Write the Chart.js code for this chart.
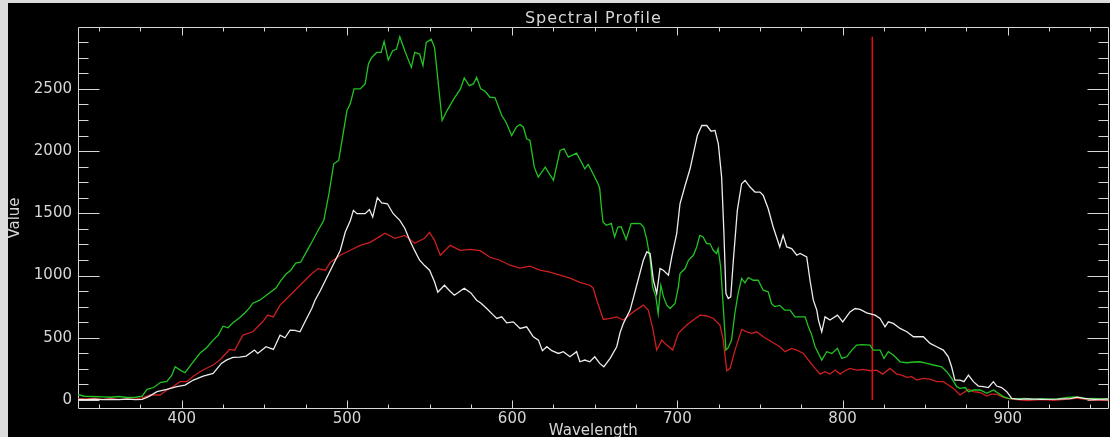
<!DOCTYPE html>
<html>
<head>
<meta charset="utf-8">
<script src="https://cdn.jsdelivr.net/npm/chart.js@4.4.1/dist/chart.umd.min.js"></script>
<style>
  html, body { margin: 0; padding: 0; background: #dcdcdc; width: 1110px; height: 437px; overflow: hidden; }
  #wrap { position: absolute; left: 8px; top: 3px; width: 1102px; height: 434px; background: #000; }
  canvas { display: block; }
</style>
</head>
<body>
<div id="wrap"><canvas id="c" width="1102" height="434"></canvas></div>
<script>
// Spectral profile: three pixel spectra (white, green, red) against wavelength (nm)
const whiteWl = [337,342,347,352,357,362,367,372,376,380,385,391,397,402,407,413,419,424,427,431,435,439,444,446,451,455.5,459.5,462.5,465.6,468.5,471.6,474.6,478.7,480.7,484,490,496,499,502,503.9,506,511,513.6,515.6,518.4,521,524.5,528,532,535,538,541,544,547,550,553,555,559,562,565,568,571,575,578.5,581,584.6,588.6,590.7,593.7,596.7,600.7,604.8,608.8,612.8,615.9,618.3,621,624,628,631,635,639,641,644,647,650,653,655.5,659.3,663.3,665.3,667.3,668.3,671.4,675.4,679.4,681.5,683.5,685.5,687.5,689.5,691.5,694.6,696.6,699.6,701.6,704.7,707.7,709.7,712.1,714.8,717.8,720.4,722.8,724.8,726.8,728.2,729.4,730.8,732.3,733.9,736.3,738.9,741,744,747,750,752,755,758,760,762,764,766.2,769.2,772.3,774.3,778.3,780.3,782.3,784.4,785.4,787.4,789.4,792.4,796.9,800.1,804.5,807.6,810.6,814.6,819.7,822.7,825.7,827.7,830.7,834.8,838.9,842.9,848.9,853,857,861,864,866,868,871.1,873.5,876.2,879.2,882.2,885.2,888.3,891.3,893.3,896.3,899.4,902.4,907,912,920,930,938,942,946,952,961];
const whiteVal = [5,3,6,2,4,3,6,3,5,27,67,86,107,120,160,192,214,294,320,342,345,353,401,374,428,406,521,500,561,560,548,628,735,802,882,1043,1203,1350,1440,1524,1497,1497,1530,1470,1626,1583,1577,1497,1444,1380,1283,1200,1123,1080,1043,950,866,922,880,842,870,898,860,802,780,735,682,655,668,620,628,575,588,508,481,396,428,396,374,388,347,388,307,321,307,347,294,267,334,428,540,615,642,722,922,1123,1190,1177,962,856,1056,1043,1003,1150,1337,1577,1724,1858,1979,2125,2206,2206,2160,2166,2059,1791,1337,856,816,829,1123,1524,1738,1765,1711,1671,1671,1644,1537,1390,1310,1230,1323,1230,1217,1163,1177,1150,962,802,722,642,548,668,642,682,628,708,735,728,700,682,655,588,628,615,575,548,508,508,455,428,401,347,267,160,160,147,200,147,112,107,100,147,112,100,67,13,5,8,4,6,10,22,12,5,6];

const greenWl = [337,341,346,352,357,362,367,372,376,379,383,387,391,394,396,399,402,406,411,415,419,422,425,428,431,435,438,441,443,447,450,453,457,460,463,466,469,472,475,478,482,486,489,492,495,497,500,502,504.3,508,511,513,515,518,520.7,522.5,525,527.7,530,532,535,539,541,544,546,548,551,553,554.5,557.6,560.6,564.7,568.7,571,574,576.5,578.5,581,583.6,586.6,589.6,593.7,596.3,599.7,602.7,604.8,606.8,608.8,610.8,613.4,615.8,620,625,629,631.4,634,639,644,646,649,652,653,654,655,657,660,662,664,666,669,672,674.5,677.6,679.6,681.6,683.6,685,687,688.4,690,691.6,693.6,695.6,698.6,700.6,701.6,704.7,706.7,709.7,711.7,713.6,715.6,717.7,719.7,721.7,723.7,724.7,726.2,727.8,729.4,730.8,732.8,734.8,736.8,738.9,740.9,742.9,745.9,748.9,752,755,757,759,762,765,768.2,771.2,774,777.3,779.3,781,783.4,787.4,790.4,793.5,796.9,799.5,802.5,805.6,808.6,812,816.6,818.6,822.7,825.1,827.7,830.7,834.8,838.9,843,846.9,851,855,860,863.1,866.1,869.1,871.1,874.2,876.2,879.2,883.3,887.3,891.3,894.3,897.3,900.4,905,910,915,920,925,930,935,940,944,948,952,956,961];
const greenVal = [45,30,28,25,22,28,20,22,30,86,100,140,150,200,267,240,219,290,375,420,481,520,593,580,620,660,697,740,778,800,830,860,900,960,1010,1043,1100,1107,1180,1250,1350,1444,1650,1898,1925,2085,2326,2380,2500,2500,2540,2700,2753,2793,2793,2882,2733,2807,2820,2919,2807,2673,2793,2780,2687,2874,2900,2834,2647,2246,2326,2420,2500,2588,2526,2540,2593,2500,2481,2433,2430,2286,2232,2125,2197,2214,2192,2099,2085,1871,1791,1871,1765,2005,2019,1952,1984,1858,1893,1818,1738,1700,1550,1430,1404,1420,1310,1390,1393,1289,1417,1420,1417,1390,1283,1123,909,829,695,922,829,762,735,775,909,1016,1056,1123,1163,1230,1323,1310,1257,1257,1203,1177,1217,1069,748,401,420,481,695,856,976,941,984,962,962,882,869,775,750,760,722,722,668,668,668,588,535,428,321,388,374,415,334,347,401,441,445,441,401,401,334,388,361,307,299,305,307,294,281,267,227,174,107,94,100,67,80,80,54,80,54,27,13,8,12,5,10,6,8,18,25,20,10,12,8,10];

const redWl = [337,342,347,352,357,362,367,372,376,380.8,386.9,391,395,399,403,407,411,415,419,423,429,432,437,443,449,452,455.5,459.5,462.5,465.6,471.6,477.7,482.5,487,490,496,502,508,514,520,523,529,535,541,547,550,553,556.5,562.5,568.5,574.6,580.6,586.6,592.6,598.7,604.7,610.8,616.8,622.9,629,635,641,647,649,651.2,655.2,659.3,663.3,667.3,673.4,679.4,682.4,685.1,687.5,690.6,693.6,697.2,700.6,705.7,709.7,713.7,717.8,721.8,725.8,727.8,729.9,731.9,734.9,739,742,745,748,752,757,762,765.2,769.2,772.3,776.3,779.3,783.4,786.4,789.4,792.4,795.5,798.5,801.5,804.5,808.6,812.6,816.6,820.7,824.3,828.7,832.8,835.8,838.9,841.9,844.9,848.9,853,857,861,864,867,871.1,874.2,876.2,879.2,883.3,887.3,890.3,893.3,896.3,899.4,905,912,920,928,935,942,948,955,961];
const redVal = [10,8,12,5,10,4,8,6,16,40,40,80,110,147,147,190,227,255,281,321,406,400,521,548,628,682,668,762,802,842,922,1003,1056,1043,1107,1163,1203,1243,1267,1315,1340,1299,1323,1259,1300,1347,1283,1163,1243,1203,1210,1200,1147,1123,1083,1059,1075,1043,1027,1003,979,946,922,900,802,647,655,668,642,708,762,722,575,401,481,441,401,535,602,642,682,675,655,602,481,235,254,401,567,548,535,548,508,468,428,388,414,401,374,321,254,208,227,208,240,208,235,254,240,245,235,240,208,254,208,200,182,187,160,174,168,147,147,120,94,40,67,86,67,60,32,47,47,27,13,2,-5,3,-3,5,15,2,-2,0];

// Cursor line at the selected band
const markerWl = 818;
const markerSpan = [0, 2920];

// Axis labels and ticks
const titleText = 'Spectral Profile';
const xTitle = 'Wavelength';
const yTitle = 'Value';
const xTicks = [400, 500, 600, 700, 800, 900];
const yTicks = [0, 500, 1000, 1500, 2000, 2500];
const xRange = [337.2, 961.1];
const yRange = [-75, 3000];

const axisColor = '#d6d6d6';
const textFont = '"DejaVu Sans", "Liberation Sans", sans-serif';

const toPoints = (wl, val) => wl.map((w, i) => ({ x: w, y: val[i] }));

// Box frame with inward ticks on all four sides, plus the title and axis names
const framePlugin = {
  id: 'frame',
  beforeDatasetsDraw(chart) {
    const { ctx, chartArea: a, scales: { x, y } } = chart;
    const L = Math.round(a.left) + 0.5, R = Math.round(a.right) - 0.5;
    const T = Math.round(a.top) + 0.5, B = Math.round(a.bottom) - 0.5;
    ctx.save();
    ctx.strokeStyle = axisColor;
    ctx.lineWidth = 1;
    ctx.beginPath();
    ctx.rect(L, T, R - L, B - T);
    // x ticks: major every 100, minor every 25
    for (let w = 350; w <= 950; w += 25) {
      const px = Math.round(x.getPixelForValue(w)) + 0.5;
      const len = xTicks.includes(w) ? 8 : 4;
      ctx.moveTo(px, B); ctx.lineTo(px, B - len);
      ctx.moveTo(px, T); ctx.lineTo(px, T + len);
    }
    // y ticks: major every 500, minor every 125
    for (let v = 125; v < 3000; v += 125) {
      const py = Math.round(y.getPixelForValue(v)) + 0.5;
      const len = yTicks.includes(v) ? 21 : 10;
      ctx.moveTo(L, py); ctx.lineTo(L + len, py);
      ctx.moveTo(R, py); ctx.lineTo(R - len, py);
    }
    const p0 = Math.round(y.getPixelForValue(0)) + 0.5;
    ctx.moveTo(L, p0); ctx.lineTo(L + 21, p0);
    ctx.moveTo(R, p0); ctx.lineTo(R - 21, p0);
    ctx.stroke();
    ctx.restore();
  },
  afterDraw(chart) {
    const { ctx, chartArea: a } = chart;
    const cx = (a.left + a.right) / 2;
    const cy = (a.top + a.bottom) / 2;
    ctx.save();
    ctx.fillStyle = axisColor;
    ctx.textAlign = 'center';
    ctx.textBaseline = 'alphabetic';
    ctx.font = '16px ' + textFont;
    ctx.letterSpacing = '1px';
    ctx.fillText(titleText, cx, 19.7);
    ctx.letterSpacing = '0px';
    ctx.font = '15px ' + textFont;
    ctx.fillText(xTitle, cx, 432);
    ctx.translate(10.5, cy);
    ctx.rotate(-Math.PI / 2);
    ctx.fillText(yTitle, 0, 0);
    ctx.restore();
  }
};

const lineStyle = { borderWidth: 1.3, pointRadius: 0, tension: 0, fill: false };
const plainLabel = v => String(v);

new Chart(document.getElementById('c'), {
  type: 'line',
  data: {
    datasets: [
      { label: 'white', data: toPoints(whiteWl, whiteVal), borderColor: '#ececec', ...lineStyle },
      { label: 'green', data: toPoints(greenWl, greenVal), borderColor: '#22c322', ...lineStyle },
      { label: 'red', data: toPoints(redWl, redVal), borderColor: '#cc1f1f', ...lineStyle },
      { label: 'marker', data: [{ x: markerWl, y: markerSpan[0] }, { x: markerWl, y: markerSpan[1] }],
        borderColor: '#e01010', ...lineStyle, borderWidth: 1.5 }
    ]
  },
  options: {
    responsive: false,
    animation: false,
    devicePixelRatio: 1,
    layout: { padding: { top: 23.7, right: 1.3, left: 0, bottom: 0 } },
    plugins: { legend: { display: false }, tooltip: { enabled: false }, title: { display: false } },
    scales: {
      x: {
        type: 'linear', min: xRange[0], max: xRange[1],
        grid: { display: false, drawTicks: false }, border: { display: false },
        afterBuildTicks: s => { s.ticks = xTicks.map(v => ({ value: v })); },
        afterFit: s => { s.height = 27.7; },
        ticks: { color: axisColor, font: { family: textFont, size: 15 }, padding: 1, maxRotation: 0, autoSkip: false, callback: plainLabel }
      },
      y: {
        type: 'linear', min: yRange[0], max: yRange[1],
        grid: { display: false, drawTicks: false }, border: { display: false },
        afterBuildTicks: s => { s.ticks = yTicks.map(v => ({ value: v })); },
        afterFit: s => { s.width = 70; },
        ticks: { color: axisColor, font: { family: textFont, size: 15 }, padding: 6, autoSkip: false, callback: plainLabel }
      }
    }
  },
  plugins: [framePlugin]
});
</script>
</body>
</html>
